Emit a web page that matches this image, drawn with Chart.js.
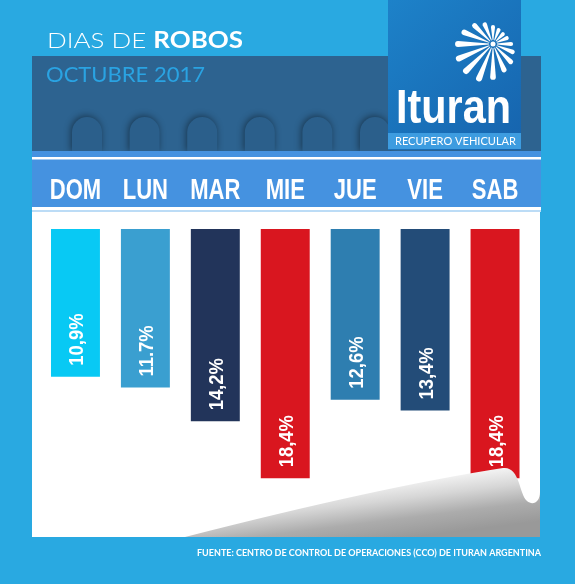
<!DOCTYPE html>
<html>
<head>
<meta charset="utf-8">
<script src="https://cdn.jsdelivr.net/npm/chart.js@4"></script>
<style>
  html, body { margin: 0; padding: 0; background: #29a9e1; }
  canvas { display: block; }
</style>
</head>
<body>
<canvas id="robosChart" width="575" height="584"></canvas>
<script>
// Días de la semana y porcentaje de robos (octubre 2017)
const dias = ["DOM", "LUN", "MAR", "MIE", "JUE", "VIE", "SAB"];
const porcentajes = [10.9, 11.7, 14.2, 18.4, 12.6, 13.4, 18.4];
const etiquetas = ["10,9%", "11.7%", "14,2%", "18,4%", "12,6%", "13,4%", "18,4%"];
const barColors = ['#08c9f4', '#3a9fd0', '#22345a', '#d9161f', '#2e7eb0', '#234c78', '#d9161f'];

// draw text squeezed to a given width
function fitText(ctx, text, x, y, width, align) {
    const w = ctx.measureText(text).width;
    const s = width / w;
    ctx.save();
    ctx.translate(x, y);
    ctx.scale(s, 1);
    ctx.textAlign = align || 'left';
    ctx.fillText(text, 0, 0);
    ctx.restore();
}

const fondo = {
    id: 'fondo',
    beforeDraw(chart) {
        const ctx = chart.ctx;
        const xs = chart.scales.x;
        ctx.save();
        // light blue background
        ctx.fillStyle = '#29a9e1';
        ctx.fillRect(0, 0, 575, 584);

        // title, stretched to the width of the original
        ctx.fillStyle = '#ffffff';
        ctx.textBaseline = 'alphabetic';
        const fLight = '300 22px Lato, "Open Sans", sans-serif';
        const fBold = 'bold 22px Lato, "Open Sans", sans-serif';
        ctx.font = fLight;
        const w1 = ctx.measureText('DIAS DE ').width;
        ctx.font = fBold;
        const w2 = ctx.measureText('ROBOS').width;
        const st = 196 / (w1 + w2);
        ctx.save();
        ctx.translate(47, 48);
        ctx.scale(st, 1);
        ctx.font = fLight;
        ctx.fillText('DIAS DE ', 0, 0);
        ctx.font = fBold;
        ctx.fillText('ROBOS', w1, 0);
        ctx.restore();

        // dark panel
        ctx.fillStyle = '#2d6390';
        ctx.fillRect(32, 56, 509, 96);
        ctx.fillStyle = '#2aa3e2';
        ctx.font = '21px Lato, "Open Sans", sans-serif';
        fitText(ctx, 'OCTUBRE 2017', 46, 82, 159);

        // arches
        ctx.save();
        ctx.beginPath();
        ctx.rect(32, 56, 509, 96);
        ctx.clip();
        for (let i = 0; i < 6; i++) {
            const ax = 72 + i * 57.6;
            ctx.shadowColor = 'rgba(0,0,0,0.45)';
            ctx.shadowBlur = 7;
            ctx.shadowOffsetX = -1;
            ctx.shadowOffsetY = -1;
            ctx.fillStyle = '#2b5f8b';
            ctx.beginPath();
            ctx.moveTo(ax, 152);
            ctx.lineTo(ax, 132);
            ctx.arc(ax + 15, 132, 15, Math.PI, 0);
            ctx.lineTo(ax + 30, 152);
            ctx.closePath();
            ctx.fill();
        }
        ctx.restore();

        // header band with day names
        ctx.fillStyle = '#4592e0';
        ctx.fillRect(32, 151, 509, 58);
        ctx.fillStyle = '#ffffff';
        ctx.fillRect(32, 157, 509, 2.5);
        ctx.fillRect(32, 207, 509, 3);
        ctx.fillStyle = '#bcdcf6';
        ctx.fillRect(32, 210, 509, 2);

        // white page
        ctx.fillStyle = '#ffffff';
        ctx.fillRect(32, 212, 508, 325);

        // logo box
        const g = ctx.createLinearGradient(388, 0, 521, 150);
        g.addColorStop(0, '#1d82c9');
        g.addColorStop(1, '#1663ad');
        ctx.fillStyle = g;
        ctx.fillRect(388, 0, 133, 150);
        ctx.fillStyle = '#3d9ce0';
        ctx.fillRect(388, 133, 133, 16);
        ctx.fillStyle = '#ffffff';
        ctx.font = '11px Lato, "Open Sans", sans-serif';
        fitText(ctx, 'RECUPERO VEHICULAR', 395, 145, 121);
        ctx.font = 'bold 49px "Liberation Sans", Arial, sans-serif';
        fitText(ctx, 'Ituran', 396, 123, 115);

        // starburst (long rays down-left, short up-right)
        const cx = 493, cy = 44;
        const rays = [
            [0, 18], [22, 21], [45, 25], [67, 28], [90, 33], [112, 37], [135, 38], [157, 37],
            [180, 35], [202, 31], [225, 26], [247, 21], [270, 17], [292, 15], [315, 14], [337, 15]
        ];
        ctx.fillStyle = '#ffffff';
        rays.forEach(r => {
            const a = r[0] * Math.PI / 180;
            const len = r[1];
            const px = -Math.sin(a), py = Math.cos(a);
            const ex = cx + Math.cos(a) * len, ey = cy + Math.sin(a) * len;
            const sx = cx + Math.cos(a) * 4, sy = cy + Math.sin(a) * 4;
            const hw = 1.2 + len * 0.05;
            ctx.beginPath();
            ctx.moveTo(sx + px * 0.4, sy + py * 0.4);
            ctx.lineTo(ex + px * hw, ey + py * hw);
            ctx.arc(ex, ey, hw, a + Math.PI / 2, a - Math.PI / 2, true);
            ctx.lineTo(sx - px * 0.4, sy - py * 0.4);
            ctx.closePath();
            ctx.fill();
        });
        ctx.beginPath();
        ctx.arc(cx, cy, 2.5, 0, Math.PI * 2);
        ctx.fill();

        // day names from x scale
        ctx.fillStyle = '#ffffff';
        ctx.font = 'bold 29px "Liberation Sans", Arial, sans-serif';
        dias.forEach((d, i) => {
            const px = xs.getPixelForValue(i);
            ctx.save();
            ctx.translate(px, 199);
            ctx.scale(0.76, 1);
            ctx.textAlign = 'center';
            ctx.fillText(d, 0, 0);
            ctx.restore();
        });

        // source note
        ctx.font = 'bold 9px Lato, "Open Sans", sans-serif';
        fitText(ctx, 'FUENTE: CENTRO DE CONTROL DE OPERACIONES (CCO) DE ITURAN ARGENTINA', 197, 556, 344);
        ctx.restore();
    },
    afterDatasetsDraw(chart) {
        const ctx = chart.ctx;
        ctx.save();
        // page curl
        const g = ctx.createLinearGradient(430, 478, 437, 534);
        g.addColorStop(0, '#f2f2f2');
        g.addColorStop(0.3, '#d6d6d6');
        g.addColorStop(0.65, '#acacac');
        g.addColorStop(1, '#999999');
        ctx.fillStyle = g;
        ctx.beginPath();
        ctx.moveTo(185, 537);
        ctx.quadraticCurveTo(380, 487, 503, 468);
        ctx.bezierCurveTo(520, 466, 519, 494, 527, 501);
        ctx.bezierCurveTo(533, 506, 540, 502, 540, 492);
        ctx.lineTo(540, 537);
        ctx.closePath();
        ctx.fill();

        // value labels, rotated, near the end of each bar
        const meta = chart.getDatasetMeta(0);
        ctx.fillStyle = '#ffffff';
        ctx.font = 'bold 20px "Liberation Sans", Arial, sans-serif';
        ctx.textBaseline = 'alphabetic';
        meta.data.forEach((bar, i) => {
            ctx.save();
            ctx.translate(bar.x + 8, bar.y - 11);
            ctx.rotate(-Math.PI / 2);
            ctx.scale(0.92, 1);
            ctx.textAlign = 'left';
            ctx.fillText(etiquetas[i], 0, 0);
            ctx.restore();
        });
        ctx.restore();
    }
};

new Chart(document.getElementById('robosChart'), {
    type: 'bar',
    data: {
        labels: dias,
        datasets: [{
            data: porcentajes,
            backgroundColor: barColors,
            borderWidth: 0,
            barPercentage: 0.7,
            categoryPercentage: 1
        }]
    },
    options: {
        responsive: false,
        animation: false,
        layout: { padding: { left: 40.5, right: 45, top: 229, bottom: 57 } },
        plugins: { legend: { display: false }, tooltip: { enabled: false } },
        scales: {
            x: { display: false },
            y: { display: false, reverse: true, min: 0, max: 22 }
        }
    },
    plugins: [fondo]
});
</script>
</body>
</html>
